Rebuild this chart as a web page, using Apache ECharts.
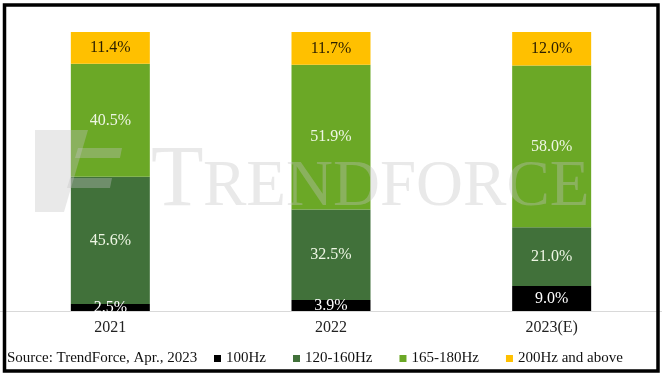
<!DOCTYPE html>
<html>
<head>
<meta charset="utf-8">
<script src="https://cdn.jsdelivr.net/npm/echarts@6/dist/echarts.min.js"></script>
<style>
html,body{margin:0;padding:0;background:#fff;}
#c{width:662px;height:377px;}
</style>
</head>
<body>
<div id="c"></div>
<script>
var categories = ['2021', '2022', '2023(E)'];
var seriesNames = ['100Hz', '120-160Hz', '165-180Hz', '200Hz and above'];
var hz100 = [2.5, 3.9, 9.0];
var hz120_160 = [45.6, 32.5, 21.0];
var hz165_180 = [40.5, 51.9, 58.0];
var hz200plus = [11.4, 11.7, 12.0];
var sourceText = 'Source: TrendForce, Apr., 2023';

var colors = ['#000000', '#41713a', '#6ba826', '#ffc000'];
var labelColors = ['#ffffff', '#eef6e4', '#eef6e4', '#2a1e00'];
var dataSets = [hz100, hz120_160, hz165_180, hz200plus];
var serif = '"Liberation Serif", "Times New Roman", serif';
var wm = 'rgba(195,195,195,0.36)';

var chart = echarts.init(document.getElementById('c'));
var series = seriesNames.map(function (name, i) {
  return {
    name: name,
    type: 'bar',
    stack: 'total',
    barWidth: 79,
    data: dataSets[i],
    itemStyle: { color: colors[i] },
    label: {
      show: true,
      position: 'inside',
      formatter: function (p) { return p.value.toFixed(1) + '%'; },
      color: labelColors[i],
      fontFamily: serif,
      fontSize: 16
    },
    emphasis: { disabled: true }
  };
});

chart.setOption({
  animation: false,
  backgroundColor: '#ffffff',
  grid: { left: 0, right: -2, top: 32, bottom: 66 },
  xAxis: {
    type: 'category',
    data: categories,
    axisLine: { lineStyle: { color: '#d9d9d9', width: 1 } },
    axisTick: { show: false },
    axisLabel: { color: '#222', fontFamily: serif, fontSize: 16, margin: 9 }
  },
  yAxis: { type: 'value', min: 0, max: 100, show: false },
  legend: {
    left: 214,
    top: 351,
    padding: 0,
    icon: 'rect',
    itemWidth: 7,
    itemHeight: 7,
    itemGap: 27,
    textStyle: { fontFamily: serif, fontSize: 15, color: '#111' },
    data: seriesNames
  },
  series: series,
  graphic: [
    { type: 'text', left: 7, top: 351, z: 10,
      style: { text: sourceText, fontFamily: serif, fontSize: 15, fill: '#111' } },
    { type: 'text', x: 151, y: 225, z: 20, silent: true,
      style: { text: 'T', fontFamily: serif, fontSize: 86, fill: wm, verticalAlign: 'bottom' } },
    { type: 'text', x: 203, y: 220, z: 20, silent: true,
      style: { text: 'RENDFORCE', fontFamily: serif, fontSize: 65, fill: wm, verticalAlign: 'bottom' } },
    { type: 'polygon', z: 20, silent: true,
      shape: { points: [[35, 130], [88, 130], [64, 212], [35, 212]] },
      style: { fill: wm } },
    { type: 'polygon', z: 20, silent: true,
      shape: { points: [[78, 148], [122, 148], [120, 158], [75, 158]] },
      style: { fill: wm } },
    { type: 'polygon', z: 20, silent: true,
      shape: { points: [[70, 178], [112, 178], [110, 188], [67, 188]] },
      style: { fill: wm } },
    { type: 'rect', z: 30, silent: true,
      shape: { x: 4.5, y: 5, width: 653.5, height: 366 },
      style: { fill: 'none', stroke: '#000', lineWidth: 3.5 } }
  ]
});
</script>
</body>
</html>
